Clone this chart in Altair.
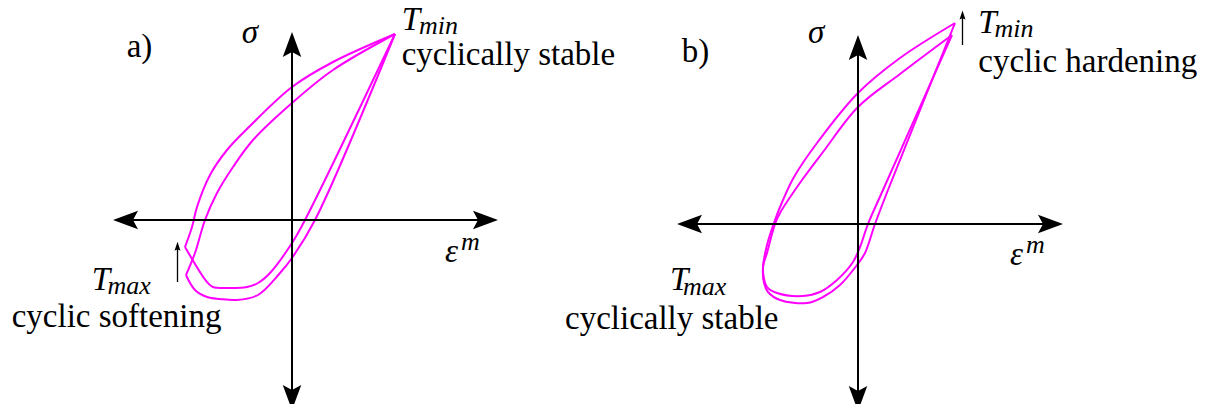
import altair as alt
import pandas as pd

# ---------------- data (schematic units: eps to the right, sigma up, origin = axes crossing) -------------
# panel a) : cyclic softening at T_max, cyclically stable at T_min
# each loop: upper branch from the T_min tip down to the lower-left corner,
# then lower branch from that corner back up to the tip
a1_up_eps = [103, 41, 0, -42, -65, -82, -95, -100, -107]
a1_up_sig = [186, 158, 133, 94, 70, 45, 13, -7, -27]
a1_lo_eps = [-107, -85, -79, -62, -45, -34, -22, 0, 13, 103]
a1_lo_sig = [-27, -62, -67, -68, -67, -63, -53, -23, 0, 186]
a2_up_eps = [103, 41, 0, -39, -59, -75, -87, -97, -106]
a2_up_sig = [186, 150, 117, 80, 53, 27, 0, -33, -55]
a2_lo_eps = [-106, -97, -85, -72, -55, -34, -12, 0, 23, 103]
a2_lo_sig = [-55, -70, -77, -79, -80, -75, -53, -38, 0, 186]
# panel b) : cyclically stable at T_max, cyclic hardening at T_min
b1_eps = [97, 42, 0, -41, -64, -75, -83, -91, -95, -94, -90, -78, -51, -35, -18, -1, 7, 17, 30, 97]
b1_sig = [201, 166, 131, 81, 47, 24, 4, -21, -43, -59, -68, -76, -79, -73, -61, -41, -29, 0, 34, 201]
b2_eps = [94, 42, 0, -35, -56, -78, -83, -91, -95, -91, -81, -55, -38, -21, -5, 2, 10, 25, 94]
b2_sig = [189, 150, 117, 72, 44, 11, 0, -29, -43, -63, -69, -72, -68, -56, -38, -23, 0, 34, 189]

# axis extents (tips) per panel: [negative end, positive end]
axis_eps = {"a": [-179, 206], "b": [-181, 205]}
axis_sig = {"a": [-190, 188], "b": [-187, 189]}

# small indicator arrows: panel, eps position, sigma tail -> sigma tip
small_arrows = [("a", -114.5, -62, -21.7), ("b", 104.5, 179, 213.5)]

# labels
labels_upright = ["a)", "cyclically stable", "cyclic softening", "b)", "cyclic hardening", "cyclically stable"]
labels_math = ["σ", "T", "ε", "T", "σ", "T", "ε", "T"]
labels_sub = ["min", "m", "max", "min", "m", "max"]

# ---------------- layout ----------------
ORIGIN = {"a": (292, 220), "b": (858, 224)}
MAGENTA = "#ff00ff"
FONT = "Liberation Serif, Times New Roman, DejaVu Serif, serif"


def to_px(panel, eps, sig):
    ox, oy = ORIGIN[panel]
    return ox + eps, oy - sig


def loop_rows(panel, name, eps, sig):
    rows = []
    for i, (e, s) in enumerate(zip(eps, sig)):
        x, y = to_px(panel, e, s)
        rows.append({"loop": name, "i": i, "px": x, "py": y})
    return rows


loops_a = pd.DataFrame(
    loop_rows("a", "a1u", a1_up_eps, a1_up_sig) + loop_rows("a", "a1l", a1_lo_eps, a1_lo_sig)
    + loop_rows("a", "a2u", a2_up_eps, a2_up_sig) + loop_rows("a", "a2l", a2_lo_eps, a2_lo_sig))
loops_b = pd.DataFrame(loop_rows("b", "b1", b1_eps, b1_sig) + loop_rows("b", "b2", b2_eps, b2_sig))

HEAD = 25
rules, heads = [], []
for p in ["a", "b"]:
    e0, e1 = axis_eps[p]
    s0, s1 = axis_sig[p]
    x0, y0 = to_px(p, e0 + HEAD * 0.5, 0)
    x1, y1 = to_px(p, e1 - HEAD * 0.5, 0)
    rules.append({"px": x0, "py": y0, "px2": x1, "py2": y1})
    x0, y0 = to_px(p, 0, s0 + HEAD * 0.5)
    x1, y1 = to_px(p, 0, s1 - HEAD * 0.5)
    rules.append({"px": x0, "py": y0, "px2": x1, "py2": y1})
    for (e, s, ang) in [(e0, 0, 270), (e1, 0, 90), (0, s0, 180), (0, s1, 0)]:
        x, y = to_px(p, e, s)
        heads.append({"px": x, "py": y, "angle": ang})
rules_df = pd.DataFrame(rules)
heads_df = pd.DataFrame(heads)

SMALL = 9
srules, sheads = [], []
for p, e, st, sp in small_arrows:
    x0, y0 = to_px(p, e, st)
    x1, y1 = to_px(p, e, sp - SMALL * 0.5)
    srules.append({"px": x0, "py": y0, "px2": x1, "py2": y1})
    x, y = to_px(p, e, sp)
    sheads.append({"px": x, "py": y, "angle": 0})
srules_df = pd.DataFrame(srules)
sheads_df = pd.DataFrame(sheads)

up_pos = [(126.7, 56.7), (401.7, 65), (11.7, 326.7), (681.7, 61.7), (978.3, 71.7), (565, 329.3)]
math_pos = [(241.7, 43.3), (401.7, 30), (445, 261.7), (91.7, 290),
            (808, 43.3), (978.3, 33.3), (1010, 265), (670, 290)]
sub_pos = [(419, 34), (461, 250), (107.5, 294.3), (994.5, 37.3), (1026, 253.3), (683, 295)]

up_df = pd.DataFrame({"t": labels_upright, "px": [p[0] for p in up_pos], "py": [p[1] for p in up_pos]})
math_df = pd.DataFrame({"t": labels_math, "px": [p[0] for p in math_pos], "py": [p[1] for p in math_pos]})
sub_df = pd.DataFrame({"t": labels_sub, "px": [p[0] for p in sub_pos], "py": [p[1] for p in sub_pos]})

X = alt.X("px:Q", scale=alt.Scale(domain=[8, 1213], nice=False, zero=False), axis=None)
Y = alt.Y("py:Q", scale=alt.Scale(domain=[8, 404], nice=False, zero=False, reverse=True), axis=None)

HEAD_PATH = "M0,0 L0.37,1 L0,0.8 L-0.37,1 Z"
SMALL_PATH = "M0,0 L0.33,1 L0,0.85 L-0.33,1 Z"

layer_loops_a = alt.Chart(loops_a).mark_line(color=MAGENTA, strokeWidth=2, interpolate="catmull-rom").encode(
    x=X, y=Y, detail="loop:N", order="i:Q")
layer_loops_b = alt.Chart(loops_b).mark_line(color=MAGENTA, strokeWidth=2, interpolate="catmull-rom").encode(
    x=X, y=Y, detail="loop:N", order="i:Q")
layer_rules = alt.Chart(rules_df).mark_rule(color="black", strokeWidth=2).encode(
    x=X, y=Y, x2="px2:Q", y2="py2:Q")
layer_heads = alt.Chart(heads_df).mark_point(
    shape=HEAD_PATH, filled=True, opacity=1, size=(2 * HEAD) ** 2, color="black", strokeWidth=0
).encode(x=X, y=Y, angle=alt.Angle("angle:Q", scale=None))
layer_srules = alt.Chart(srules_df).mark_rule(color="black", strokeWidth=1.3).encode(
    x=X, y=Y, x2="px2:Q", y2="py2:Q")
layer_sheads = alt.Chart(sheads_df).mark_point(
    shape=SMALL_PATH, filled=True, opacity=1, size=(2 * SMALL) ** 2, color="black", strokeWidth=0
).encode(x=X, y=Y, angle=alt.Angle("angle:Q", scale=None))

layer_up = alt.Chart(up_df).mark_text(
    align="left", baseline="alphabetic", font=FONT, fontSize=33, color="black"
).encode(x=X, y=Y, text="t:N")
layer_math = alt.Chart(math_df).mark_text(
    align="left", baseline="alphabetic", font=FONT, fontSize=33, fontStyle="italic", color="black"
).encode(x=X, y=Y, text="t:N")
layer_sub = alt.Chart(sub_df).mark_text(
    align="left", baseline="alphabetic", font=FONT, fontSize=26, fontStyle="italic", color="black"
).encode(x=X, y=Y, text="t:N")

chart = alt.layer(
    layer_loops_a, layer_loops_b, layer_rules, layer_heads, layer_srules, layer_sheads,
    layer_up, layer_math, layer_sub
).properties(
    width=1205, height=396, autosize=alt.AutoSizeParams(type="none"), padding=0,
    background="white"
).configure_view(stroke=None)

chart.save("out.html", embed_options={"renderer": "svg", "actions": False})
